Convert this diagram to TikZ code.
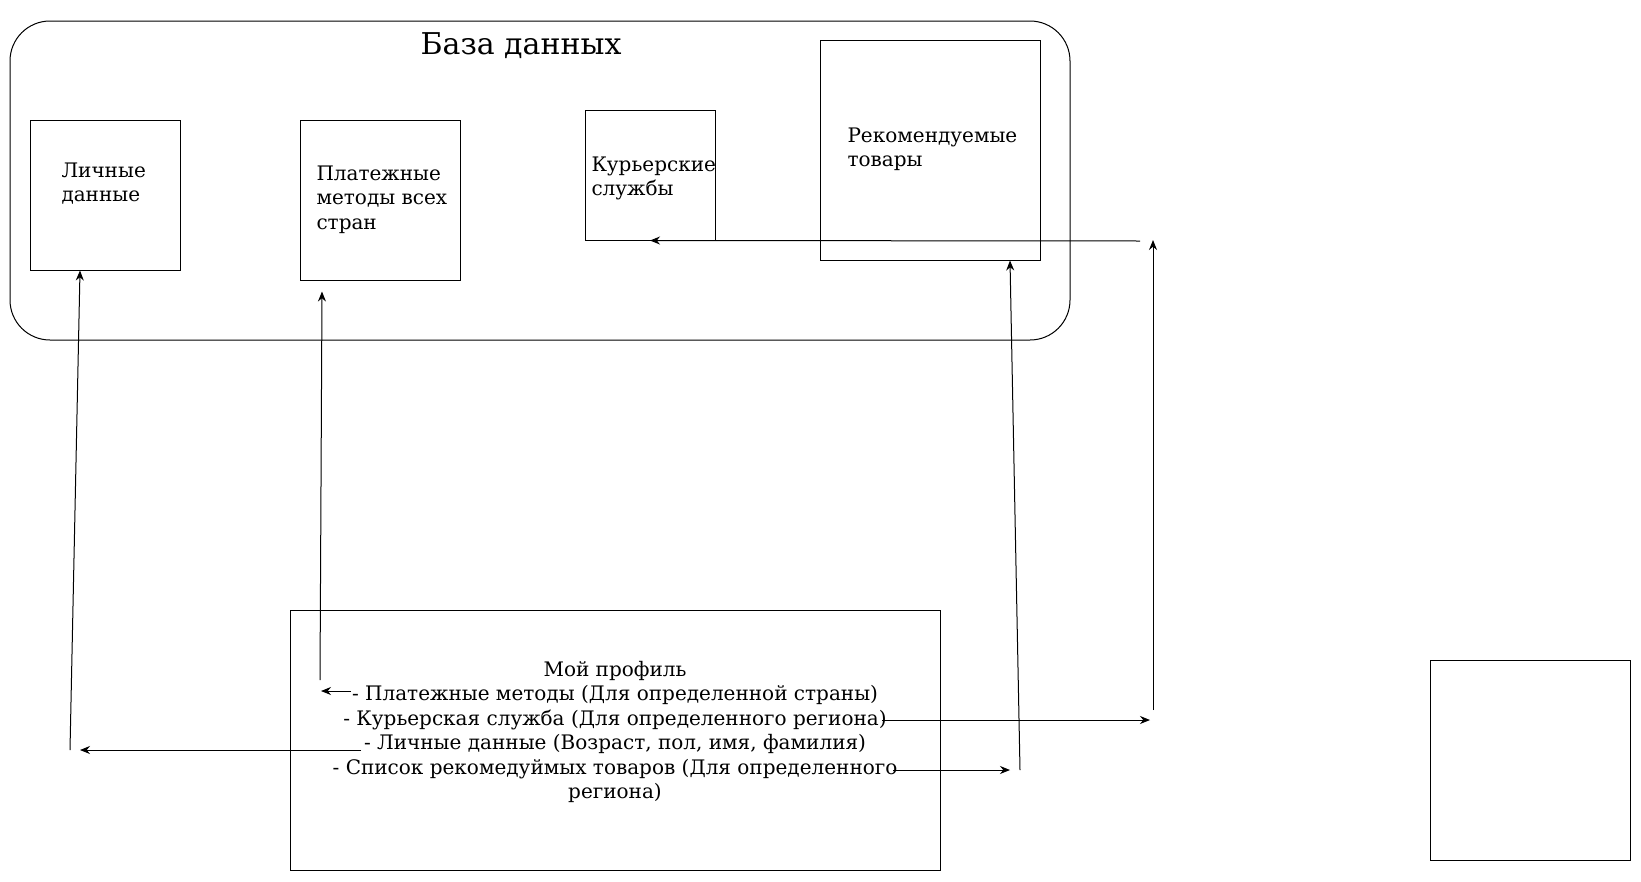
\documentclass[tikz,border=0pt]{standalone}
\usepackage{fontspec}
\setmainfont{DejaVu Serif}
\usetikzlibrary{arrows.meta}
\begin{document}
\begin{tikzpicture}
[x=1pt,y=-1pt,line width=1pt,%
  box/.style={draw,rectangle,inner sep=0pt},%
  txt/.style={inner sep=0pt,align=left,anchor=base west,font=\fontsize{20}{24.5}\selectfont},%
  arr/.style={-{Stealth[length=10pt,width=8pt]}}]
\useasboundingbox (0,0) rectangle (1641,881);
% database
\node[box,rounded corners=40pt,minimum width=1060pt,minimum height=319pt] (db) at (540,180.5) {};
\node[inner sep=0pt,anchor=base,font=\fontsize{30}{36}\selectfont] (dbtitle) at (521,54) {База данных};
\node[box,minimum width=150pt,minimum height=150pt] (lichn) at (105,195) {};
\node[txt] (lichntxt) at (61,201.5) {Личные\\данные};
\node[box,minimum width=160pt,minimum height=160pt] (plat) at (380,200) {};
\node[txt] (plattxt) at (316,229) {Платежные\\методы всех\\стран};
\node[box,minimum width=130pt,minimum height=130pt] (kur) at (650,175) {};
\node[txt] (kurtxt) at (591,195.5) {Курьерские\\службы};
\node[box,minimum width=220pt,minimum height=220pt] (rek) at (930,150) {};
\node[txt] (rektxt) at (847,166.5) {Рекомендуемые\\товары};
% profile
\node[box,minimum width=650pt,minimum height=260pt] (prof) at (615,740) {};
\node[txt,align=center,anchor=base] (proftxt) at (615,798.5) {Мой профиль\\
  - Платежные методы (Для определенной страны)\\
  - Курьерская служба (Для определенного региона)\\
  - Личные данные (Возраст, пол, имя, фамилия)\\
  - Список рекомедуймых товаров (Для определенного\\
  региона)};
\node[box,minimum width=200pt,minimum height=200pt] (empty) at (1530,760) {};
% connectors
\coordinate (lichA) at (70,750);
\coordinate (lichB) at (361,750);
\coordinate (platA) at (320,680);
\coordinate (platB) at (351,691);
\coordinate (kurA) at (882,720);
\coordinate (kurB) at (1150,720);
\coordinate (kurC) at (1153,710);
\coordinate (kurD) at (1140,241);
\coordinate (rekA) at (893,770);
\coordinate (rekB) at (1020,770);
\draw[arr] (lichA) -- ([xshift=-25pt]lichn.south);
\draw[arr] (lichB) -- ([xshift=10pt]lichA);
\draw[arr] (platA) -- ([xshift=-58pt,yshift=-11pt]plat.south);
\draw[arr] (platB) -- ([xshift=1pt,yshift=-11pt]platA);
\draw[arr] (kurA) -- (kurB);
\draw[arr] (kurC) -- ([yshift=1pt]kurC |- kurD);
\draw[arr] (kurD) -- (kur.south);
\draw[arr] (rekA) -- ([xshift=-10pt]rekB);
\draw[arr] (rekB) -- ([xshift=80pt]rek.south);
\end{tikzpicture}
\end{document}
